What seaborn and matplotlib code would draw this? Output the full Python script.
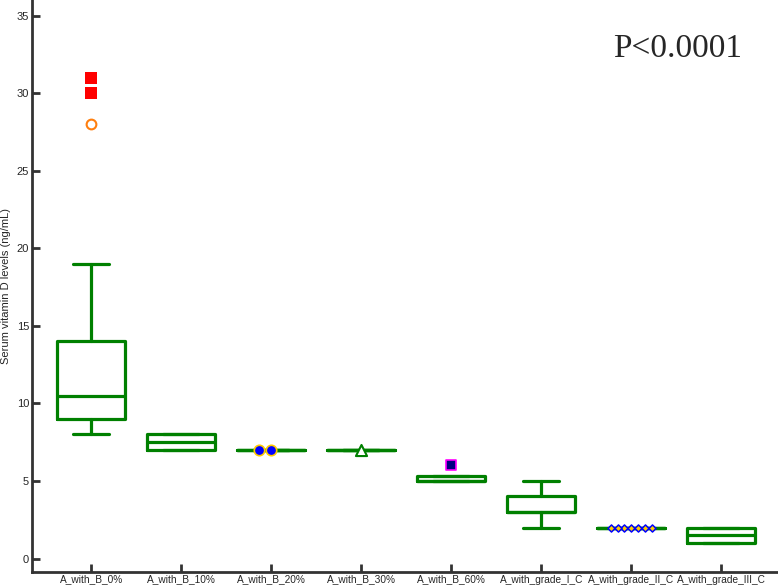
import matplotlib
matplotlib.use("Agg")
import matplotlib.pyplot as plt
import seaborn as sns

groups = ["A_with_B_0%", "A_with_B_10%", "A_with_B_20%", "A_with_B_30%",
          "A_with_B_60%", "A_with_grade_I_C", "A_with_grade_II_C", "A_with_grade_III_C"]
q1 = [9, 7, 7, 7, 5, 3, 2, 1]
med = [10.5, 7.5, 7, 7, 5, 3, 2, 1.5]
q3 = [14, 8, 7, 7, 5.3, 4, 2, 2]
whislo = [8, 7, 7, 7, 5, 2, 2, 1]
whishi = [19, 8, 7, 7, 5.3, 5, 2, 2]

# outliers, one list per marker style
red_sq = [31, 30]
orange_circ = [28]
blue_circ = [7, 7]
open_tri = [7]
navy_sq = [6]
gold_diam = [2, 2, 2, 2, 2, 2, 2]

green = "#008000"

sns.set_style("ticks")
plt.rcParams['font.family'] = ['Liberation Sans', 'DejaVu Sans']

fig = plt.figure(figsize=(7.78, 5.87), dpi=100)
ax = fig.add_axes([0.041, 0.026, 0.959, 0.974])

stats = []
for i in range(len(groups)):
    stats.append(dict(med=med[i], q1=q1[i], q3=q3[i],
                      whislo=whislo[i], whishi=whishi[i], fliers=[]))
lw = 2.3
ax.bxp(stats, positions=range(len(groups)), widths=0.76, showfliers=False,
       boxprops=dict(color=green, linewidth=lw),
       medianprops=dict(color=green, linewidth=lw),
       whiskerprops=dict(color=green, linewidth=lw),
       capprops=dict(color=green, linewidth=lw),
       capwidths=0.4)

sns.swarmplot(x=[groups[0]] * len(red_sq), y=red_sq, order=groups, ax=ax,
              marker="s", size=8, color="#ff0000", linewidth=0)
sns.swarmplot(x=[groups[0]] * len(orange_circ), y=orange_circ, order=groups, ax=ax,
              marker="o", size=7, facecolor="white", edgecolor="#ff7f0e", linewidth=1.5)
sns.swarmplot(x=[groups[2]] * len(blue_circ), y=blue_circ, order=groups, ax=ax,
              marker="o", size=7.5, color="#0000ff", edgecolor="#ffcc00", linewidth=1.2)
sns.swarmplot(x=[groups[3]] * len(open_tri), y=open_tri, order=groups, ax=ax,
              marker="^", size=8, facecolor="white", edgecolor=green, linewidth=1.5)
sns.swarmplot(x=[groups[4]] * len(navy_sq), y=navy_sq, order=groups, ax=ax,
              marker="s", size=7.5, color="#000080", edgecolor="#ff00ff", linewidth=1.2)
sns.swarmplot(x=[groups[6]] * len(gold_diam), y=gold_diam, order=groups, ax=ax,
              marker="D", size=3.6, color="#ffcc00", edgecolor="#0000ff", linewidth=1.1)

ax.set_xlim(-0.66, 7.63)
ax.set_ylim(-0.85, 36)
ax.set_yticks([0, 5, 10, 15, 20, 25, 30, 35])
ax.set_xticks(range(len(groups)))
ax.set_xticklabels(groups, fontsize=7.3)
ax.tick_params(axis="y", labelsize=8)
ax.tick_params(direction="in", length=6, width=2, color="#333333", pad=2)
ax.set_ylabel("Serum vitamin D levels (ng/mL)", fontsize=8)
ax.yaxis.set_label_coords(-0.028, 0.5)
ax.set_xlabel("")
for s in ["left", "bottom"]:
    ax.spines[s].set_linewidth(2)
    ax.spines[s].set_color("#333333")
ax.spines["top"].set_visible(False)
ax.spines["right"].set_visible(False)

ax.text(0.866, 0.915, "P<0.0001", transform=ax.transAxes, ha="center", va="center",
        fontsize=24, family=["Liberation Serif", "DejaVu Serif"])

fig.savefig("out.png", dpi=100)
